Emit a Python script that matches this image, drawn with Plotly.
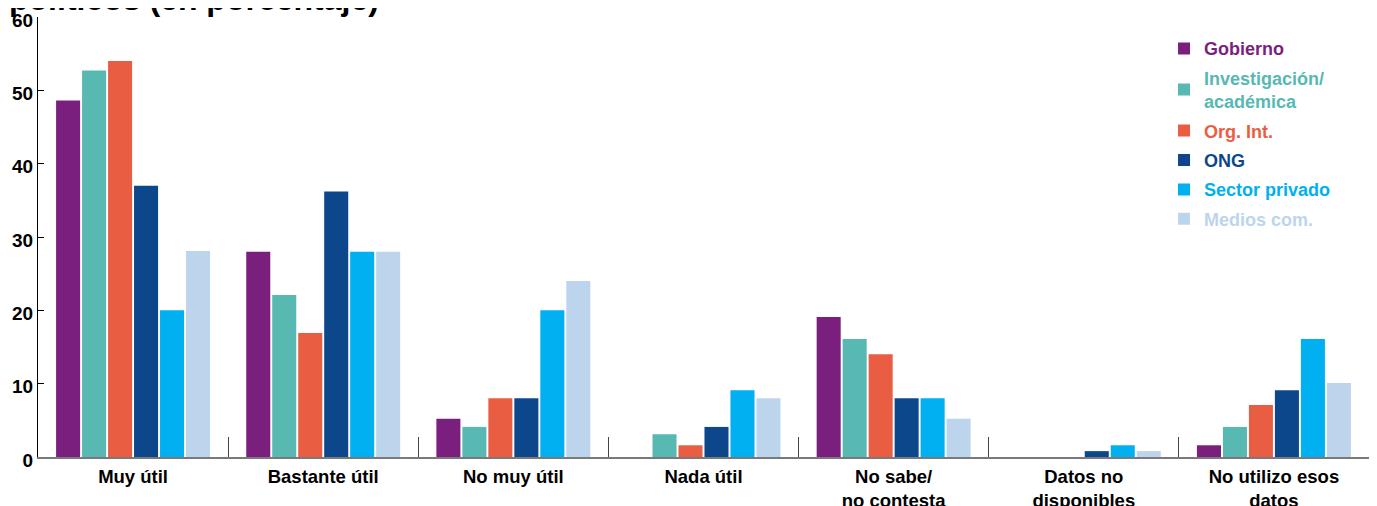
import plotly.graph_objects as go

categories = ["Muy útil", "Bastante útil", "No muy útil", "Nada útil",
              "No sabe/<br>no contesta", "Datos no<br>disponibles", "No utilizo esos<br>datos"]

series_names = ["Gobierno", "Investigación/<br>académica", "Org. Int.", "ONG", "Sector privado", "Medios com."]
series_colors = ["#7B1F7E", "#57B9B2", "#E95E43", "#0C478C", "#00B0F0", "#BDD5EC"]

gobierno = [48.6, 28, 5.2, 0, 19.1, 0, 1.6]
investigacion = [52.7, 22.1, 4.1, 3.1, 16.1, 0, 4.1]
org_int = [54.0, 16.9, 8, 1.6, 14.0, 0, 7.1]
ong = [37.0, 36.2, 8, 4.1, 8, 0.8, 9.1]
sector_privado = [20, 28, 20, 9.1, 8, 1.6, 16.1]
medios = [28.1, 28, 24, 8, 5.2, 0.8, 10.1]

series_values = [gobierno, investigacion, org_int, ong, sector_privado, medios]

y_ticks = [0, 10, 20, 30, 40, 50, 60]

FONT = "Liberation Sans, Arial, Helvetica, sans-serif"

fig = go.Figure()
for name, color, vals in zip(series_names, series_colors, series_values):
    fig.add_trace(go.Bar(
        x=categories, y=vals,
        name=f"<span style='color:{color}'><b>{name}</b></span>",
        marker=dict(color=color, line=dict(width=0)),
        legendgroup=name,
    ))

fig.add_annotation(
    text="<b>políticos (en porcentaje)</b>",
    font=dict(family=FONT, size=32, color="black"),
    xref="paper", yref="paper", x=-0.0233, xanchor="left",
    y=0.9965, yanchor="bottom", showarrow=False,
)

fig.update_layout(
    width=1377, height=506,
    barmode="group",
    bargap=0.18,
    bargroupgap=0.075,
    plot_bgcolor="white",
    paper_bgcolor="white",
    margin=dict(l=30, r=16, t=9, b=57),
    font=dict(family=FONT, size=18, color="black"),
    legend=dict(
        x=0.846, xanchor="left", y=0.970, yanchor="top",
        font=dict(family=FONT, size=18),
        traceorder="grouped",
        tracegroupgap=3,
        itemwidth=30,
        bgcolor="rgba(0,0,0,0)",
    ),
    xaxis=dict(
        type="category",
        range=[-0.5, 6.5],
        automargin=False,
        showline=True, linecolor="#7a7a7a", linewidth=2,
        tickson="boundaries",
        ticks="inside", ticklen=20, tickcolor="#444444", tickwidth=1,
        tickfont=dict(family=FONT, size=18.5, color="black"),
        ticklabelstandoff=2,
        ticklabeloverflow="allow",
        showgrid=False,
        tickvals=categories,
        ticktext=[f"<b>{c}</b>" for c in categories],
    ),
    yaxis=dict(
        range=[0, 60],
        automargin=False,
        tickvals=y_ticks,
        ticktext=[f"<b>{v}</b>" for v in y_ticks],
        showline=True, linecolor="black", linewidth=1,
        ticks="inside", ticklen=6, tickcolor="black",
        tickfont=dict(family=FONT, size=19, color="black"),
        ticklabeloverflow="allow",
        ticklabelshift=3,
        showgrid=False, zeroline=False,
    ),
)

fig.write_html("out.html")
